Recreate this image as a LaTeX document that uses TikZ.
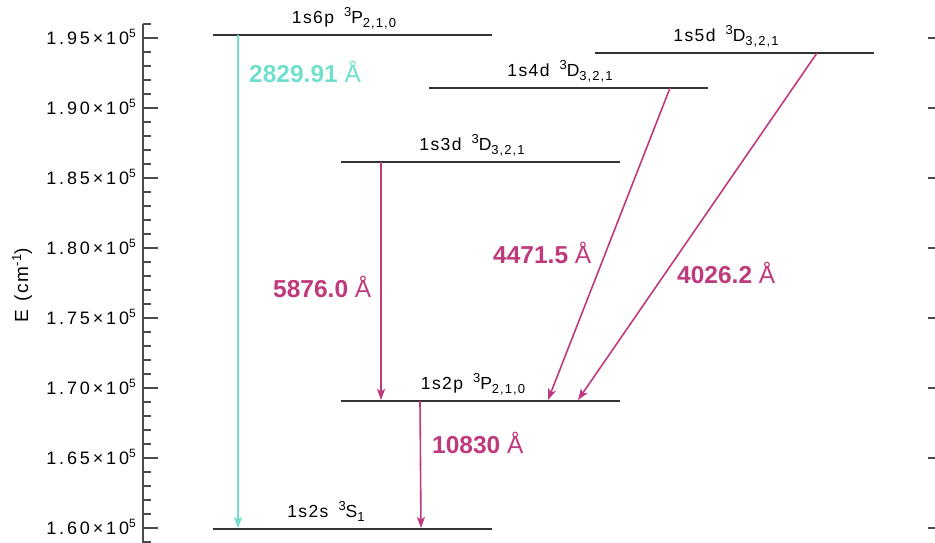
\documentclass[tikz,border=0pt]{standalone}
\usepackage{fontspec}
\setmainfont{Liberation Sans}
\newfontfamily\thinfont{Liberation Sans}[LetterSpace=16]
\newfontfamily\lvlfont{Liberation Sans}[LetterSpace=8]
\usetikzlibrary{arrows.meta}
\definecolor{mag}{RGB}{191,58,124}
\definecolor{tealc}{RGB}{112,224,205}
\definecolor{axgray}{RGB}{75,75,75}
\newcommand\sups[1]{\raisebox{7pt}{\fontsize{13}{13}\selectfont #1}}
\newcommand\subs[1]{\raisebox{-4.5pt}{\fontsize{13}{13}\selectfont #1}}
\begin{document}
\begin{tikzpicture}[x=1pt,y=-1pt,
  level/.style={draw=black!80, line width=1.1pt},
  trans/.style={draw=mag, line width=1.6pt, -{Stealth[length=11pt,width=8pt,inset=2.5pt]}},
  transb/.style={trans, draw=tealc},
  lvllab/.style={anchor=base, inner sep=0pt, font=\lvlfont\fontsize{17.5}{17.5}\selectfont},
  wave/.style={anchor=base west, inner sep=0pt, text=mag, font=\fontsize{24.5}{24.5}\selectfont},
  ticklab/.style={anchor=base east, inner sep=0pt, font=\thinfont\fontsize{18}{18}\selectfont},
  axis/.style={draw=axgray, line width=1.3pt}]
\useasboundingbox (0,0) rectangle (935,542);

% axis
\coordinate (axT) at (143,24);
\coordinate (axB) at (143,545);
\draw[axis] (axT) -- (axB);
\foreach \k in {0,...,37} {
  \draw[axis, line width=1.1pt] (143,24+14*\k) -- (151,24+14*\k);
}
\foreach \v/\y in {1.95/38,1.90/108,1.85/178,1.80/248,1.75/318,1.70/388,1.65/458,1.60/528} {
  \draw[axis, line width=1.1pt] (143,\y) -- (158,\y);
  \draw[axis, line width=1.1pt] (928,\y) -- (936,\y);
  \node[ticklab] (tl\y) at (136,\y+6.5) {\v×10\raisebox{7pt}{\fontsize{12}{12}\selectfont 5}};
}
\node[rotate=90, inner sep=0pt, font=\lvlfont\fontsize{19}{19}\selectfont] (ylab) at (22,285) {E\hspace{8pt}(cm\raisebox{7pt}{\fontsize{13}{13}\selectfont -1})};

% levels
\coordinate (p6L) at (213,35);  \coordinate (p6R) at (492,35);
\coordinate (d5L) at (595,53);  \coordinate (d5R) at (874,53);
\coordinate (d4L) at (429,88);  \coordinate (d4R) at (708,88);
\coordinate (d3L) at (341,162); \coordinate (d3R) at (620,162);
\coordinate (p2L) at (341,401); \coordinate (p2R) at (620,401);
\coordinate (s2L) at (213,529); \coordinate (s2R) at (492,529);
\foreach \a in {p6,d5,d4,d3,p2,s2} { \draw[level] (\a L) -- (\a R); }

\node[lvllab] (lp6) at (344,23)  {1s6p\hspace{10pt}\sups{3}P\subs{2,1,0}};
\node[lvllab] (ld5) at (726,41)  {1s5d\hspace{10pt}\sups{3}D\subs{3,2,1}};
\node[lvllab] (ld4) at (560,76)  {1s4d\hspace{10pt}\sups{3}D\subs{3,2,1}};
\node[lvllab] (ld3) at (472,150) {1s3d\hspace{10pt}\sups{3}D\subs{3,2,1}};
\node[lvllab] (lp2) at (473,389) {1s2p\hspace{10pt}\sups{3}P\subs{2,1,0}};
\node[lvllab] (ls2) at (326,517) {1s2s\hspace{10pt}\sups{3}S\subs{1}};

% transitions
\coordinate (a1s) at (238,35);  \coordinate (a1e) at (238,528);
\coordinate (a2s) at (381,162); \coordinate (a2e) at (381,400);
\coordinate (a3s) at (670,88);  \coordinate (a3e) at (548,400);
\coordinate (a4s) at (817,53);  \coordinate (a4e) at (578,400);
\coordinate (a5s) at (420,401); \coordinate (a5e) at (421,528);
\draw[transb] (a1s) -- (a1e);
\draw[trans] (a2s) -- (a2e);
\draw[trans] (a3s) -- (a3e);
\draw[trans] (a4s) -- (a4e);
\draw[trans] (a5s) -- (a5e);

\node[wave, text=tealc] (w1) at (249,82) {\textbf{2829.91} Å};
\node[wave] (w2) at (273,297) {\textbf{5876.0} Å};
\node[wave] (w3) at (493,263) {\textbf{4471.5} Å};
\node[wave] (w4) at (677,283) {\textbf{4026.2} Å};
\node[wave] (w5) at (432,453) {\textbf{10830} Å};
\end{tikzpicture}
\end{document}
